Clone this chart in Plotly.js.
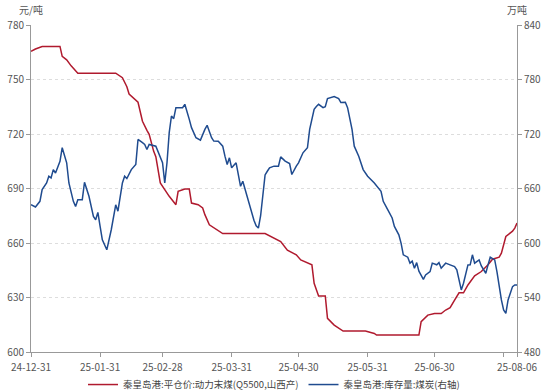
<!DOCTYPE html>
<html>
<head>
<meta charset="utf-8">
<script src="https://cdn.plot.ly/plotly-3.0.1.min.js"></script>
<style>html,body{margin:0;padding:0;background:#fff}#chart{width:550px;height:390px}</style>
</head>
<body>
<div id="chart"></div>
<script>
// Series 1: 秦皇岛港:平仓价:动力末煤(Q5500,山西产), 元/吨 (left axis)
const priceDates = ["2024-12-31","2025-01-02","2025-01-05","2025-01-13","2025-01-14","2025-01-16","2025-01-18","2025-01-21",
"2025-02-07","2025-02-10","2025-02-12","2025-02-13","2025-02-17","2025-02-19","2025-02-21","2025-02-22","2025-02-24","2025-02-25",
"2025-02-27","2025-03-01","2025-03-03","2025-03-06","2025-03-07","2025-03-10","2025-03-12","2025-03-13","2025-03-16","2025-03-18",
"2025-03-19","2025-03-21","2025-03-24","2025-03-27","2025-04-15","2025-04-18","2025-04-22","2025-04-25","2025-04-29","2025-05-01",
"2025-05-06","2025-05-07","2025-05-09","2025-05-12","2025-05-13","2025-05-16","2025-05-20","2025-05-30","2025-06-03","2025-06-04",
"2025-06-23","2025-06-24","2025-06-27","2025-06-30","2025-07-03","2025-07-05","2025-07-07","2025-07-09","2025-07-11","2025-07-13",
"2025-07-15","2025-07-18","2025-07-21","2025-07-24","2025-07-26","2025-07-29","2025-07-30","2025-08-01","2025-08-04","2025-08-05",
"2025-08-06"];
const priceValues = [765.5,766.8,768.2,768.2,762.7,760.8,757.5,753.5,
753.5,751,746,742,737.5,727,722,719.8,710.6,707.5,
693.1,689.4,685.7,681.1,688.4,689.7,689.7,682,681.1,679.3,
675.6,670,667.7,665.2,665.2,663.5,660.8,656,653.5,650.7,
648,637.8,630.8,630.8,618.5,614.8,611.5,611.5,610.2,609.3,
609.3,616.7,620.3,621.2,621.2,623.1,624.4,628.6,632.6,632.6,
636.9,641.9,644.3,648,651.1,652.2,654.4,663.6,666.5,668.2,
671];

// Series 2: 秦皇岛港:库存量:煤炭, 万吨 (right axis)
const stockDates = ["2024-12-31","2025-01-02","2025-01-04","2025-01-05","2025-01-07","2025-01-08","2025-01-09","2025-01-10","2025-01-11",
"2025-01-13","2025-01-14","2025-01-16","2025-01-17","2025-01-19","2025-01-20","2025-01-21","2025-01-23","2025-01-24","2025-01-26",
"2025-01-28","2025-01-29","2025-01-30","2025-01-31","2025-02-01","2025-02-03","2025-02-05","2025-02-07","2025-02-08","2025-02-10",
"2025-02-11","2025-02-12","2025-02-14","2025-02-16","2025-02-17","2025-02-19","2025-02-20","2025-02-21","2025-02-22","2025-02-25",
"2025-02-26","2025-02-28","2025-03-01","2025-03-02","2025-03-03","2025-03-04","2025-03-05","2025-03-06","2025-03-09","2025-03-10",
"2025-03-12","2025-03-13","2025-03-15","2025-03-17","2025-03-19","2025-03-20","2025-03-22","2025-03-23","2025-03-25","2025-03-27",
"2025-03-28","2025-03-29","2025-03-30","2025-03-31","2025-04-02","2025-04-03","2025-04-04","2025-04-05","2025-04-07","2025-04-08",
"2025-04-09","2025-04-10","2025-04-11","2025-04-12","2025-04-13","2025-04-14","2025-04-15","2025-04-16","2025-04-17","2025-04-19",
"2025-04-21","2025-04-22","2025-04-24","2025-04-26","2025-04-27","2025-04-29","2025-04-30","2025-05-02","2025-05-04","2025-05-05",
"2025-05-07","2025-05-08","2025-05-09","2025-05-11","2025-05-12","2025-05-13","2025-05-16","2025-05-18","2025-05-19","2025-05-21",
"2025-05-22","2025-05-24","2025-05-25","2025-05-27","2025-05-29","2025-05-31","2025-06-03","2025-06-06","2025-06-07","2025-06-09",
"2025-06-11","2025-06-12","2025-06-14","2025-06-15","2025-06-16","2025-06-18","2025-06-19","2025-06-20","2025-06-21","2025-06-22",
"2025-06-23","2025-06-25","2025-06-26","2025-06-28","2025-06-29","2025-07-01","2025-07-02","2025-07-03","2025-07-05","2025-07-07",
"2025-07-09","2025-07-10","2025-07-12","2025-07-13","2025-07-15","2025-07-16","2025-07-17","2025-07-18","2025-07-20","2025-07-21",
"2025-07-23","2025-07-24","2025-07-25","2025-07-27","2025-07-28","2025-07-30","2025-07-31","2025-08-01","2025-08-02","2025-08-04",
"2025-08-05","2025-08-06"];
const stockValues = [642.2,639.6,645.9,658.8,666.1,673.5,671.6,680.8,677.1,
690,704.9,688.3,666.1,645.9,640.3,647.7,647.7,666.9,651.4,
629.3,625.6,633.7,618.2,603.5,592.5,614.6,642,635,666.1,
673.5,671,680.8,686.4,714,710.4,708.5,703,708.5,706.6,
701.1,688.3,666.1,688.3,721.5,739.8,736.9,749,749,752.7,
736.1,727,715.9,713.3,725.1,729.5,715.9,712.2,712,706.6,
695.6,686.4,693.8,682.8,688.3,675.4,662.4,668,651.4,642.2,
632,625,619,616.4,630,655,675,679,682.8,684.6,
684.6,694.8,690.1,687.5,675.4,684.6,688.3,699.3,704.9,725.1,
747.2,750.2,752.7,749,750,759,761.2,759,754.6,755,
749,725.1,706.6,695.6,680.8,673.5,666.1,656.9,645.9,636.7,
627.5,618.2,609,599.9,587,584.4,577.8,580,572.3,578.4,
569,560,564.9,568.5,577.8,576,578.4,572.3,577.8,575.9,
574,570.4,548.3,555.7,575.9,576,587,577.8,581.4,574.8,
566.7,575.9,584.4,581.4,568.5,537.3,526.2,522.5,537.3,552,
553.8,553.8];

const xTickVals = ["2024-12-31","2025-01-31","2025-02-28","2025-03-31","2025-04-30","2025-05-31","2025-06-30","2025-07-31","2025-08-06"];
const xTickText = ["24-12-31","25-01-31","25-02-28","25-03-31","25-04-30","25-05-31","25-06-30","","25-08-06"];
const leftTicks = [600,630,660,690,720,750,780];
const rightTicks = [480,540,600,660,720,780,840];

const FONT = '"Noto Sans CJK SC", "Noto Sans", sans-serif';
const traces = [
  {x: priceDates, y: priceValues, type: 'scatter', mode: 'lines', name: '秦皇岛港:平仓价:动力末煤(Q5500,山西产)',
   line: {color: '#b01a2e', width: 1.5}, yaxis: 'y'},
  {x: stockDates, y: stockValues, type: 'scatter', mode: 'lines', name: '秦皇岛港:库存量:煤炭(右轴)',
   line: {color: '#1f4b8f', width: 1.5}, yaxis: 'y2'}
];
const layout = {
  width: 550, height: 390,
  margin: {l: 31, r: 33, t: 25, b: 38, pad: 0},
  paper_bgcolor: '#fff', plot_bgcolor: '#fff',
  font: {family: FONT, size: 10, color: '#555'},
  showlegend: true,
  legend: {orientation: 'h', x: 0.5, xanchor: 'center', yref: 'container', y: 0.014, yanchor: 'middle',
           bgcolor: 'rgba(0,0,0,0)', font: {size: 9.5, color: '#444', family: FONT}, itemwidth: 30, tracegroupgap: 0},
  xaxis: {type: 'date', range: ['2024-12-31', '2025-08-06'], tickvals: xTickVals, ticktext: xTickText,
          showgrid: false, zeroline: false, showline: true, linecolor: '#999', linewidth: 1,
          ticks: 'outside', ticklen: 4, tickcolor: '#999', ticklabelstandoff: 2, tickfont: {size: 10, color: '#555'}},
  yaxis: {range: [600, 780], tickvals: leftTicks, showgrid: true, gridcolor: '#ddd', griddash: 'dot', gridwidth: 1,
          zeroline: false, showline: true, linecolor: '#999', linewidth: 1,
          ticks: 'outside', ticklen: 4, tickcolor: '#999', tickfont: {size: 10, color: '#555'}},
  yaxis2: {range: [480, 840], tickvals: rightTicks, overlaying: 'y', side: 'right', showgrid: false,
           zeroline: false, showline: true, linecolor: '#999', linewidth: 1,
           ticks: 'outside', ticklen: 4, tickcolor: '#999', tickfont: {size: 10, color: '#555'}},
  annotations: [
    {text: '元/吨', xref: 'paper', yref: 'paper', x: 0, y: 1, xanchor: 'center', yanchor: 'bottom', yshift: 6,
     showarrow: false, font: {size: 10, color: '#555', family: FONT}},
    {text: '万吨', xref: 'paper', yref: 'paper', x: 1, y: 1, xanchor: 'center', yanchor: 'bottom', yshift: 6,
     showarrow: false, font: {size: 10, color: '#555', family: FONT}}
  ]
};
Plotly.newPlot('chart', traces, layout, {displayModeBar: false, staticPlot: true});
</script>
</body>
</html>
